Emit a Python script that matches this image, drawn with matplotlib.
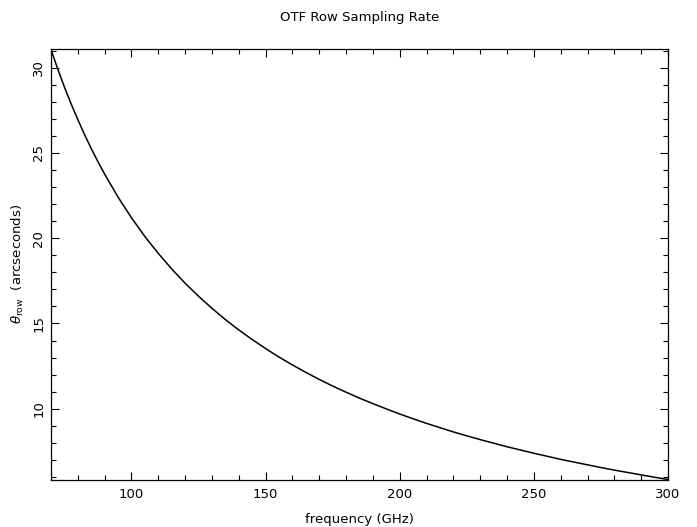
import matplotlib
matplotlib.use("Agg")
import matplotlib.pyplot as plt
from matplotlib.ticker import MultipleLocator

freq = [70, 72.5, 75, 77.5, 80, 82.5, 85, 87.5, 90, 95, 100, 105, 110, 115,
        120, 125, 130, 135, 140, 145, 150, 155, 160, 165, 170, 175, 180, 185,
        190, 195, 200, 205, 210, 215, 220, 225, 230, 235, 240, 245, 250, 255,
        260, 265, 270, 275, 280, 285, 290, 295, 300]
theta_row = [31.07, 29.93, 28.87, 27.88, 26.96, 26.08, 25.26, 24.49, 23.76,
             22.41, 21.20, 20.10, 19.11, 18.20, 17.36, 16.60, 15.89, 15.23,
             14.62, 14.06, 13.53, 13.03, 12.57, 12.13, 11.72, 11.33, 10.97,
             10.62, 10.30, 9.99, 9.69, 9.41, 9.14, 8.89, 8.64, 8.41, 8.19,
             7.98, 7.77, 7.58, 7.39, 7.21, 7.03, 6.87, 6.71, 6.55, 6.40, 6.26,
             6.12, 5.98, 5.85]

fig = plt.figure(figsize=(6.97, 5.27), dpi=100)
ax = fig.add_axes([51/697, 1-480/527, (668-51)/697, (480-49)/527])
ax.plot(freq, theta_row, color="black", lw=1.1)
ax.set_xlim(70, 300)
ax.set_ylim(5.82, 31.1)

ax.xaxis.set_major_locator(MultipleLocator(50))
ax.xaxis.set_minor_locator(MultipleLocator(10))
ax.yaxis.set_major_locator(MultipleLocator(5))
ax.yaxis.set_minor_locator(MultipleLocator(1))
ax.tick_params(which="both", direction="in", top=True, right=True,
               width=0.8, labelsize=9.5)
ax.tick_params(which="major", length=6)
ax.tick_params(which="minor", length=3.5)
for lab in ax.get_yticklabels():
    lab.set_rotation(90)
    lab.set_va("center")
ax.tick_params(axis="x", pad=6)
ax.tick_params(axis="y", pad=4)
for s in ax.spines.values():
    s.set_linewidth(0.9)

fig.text(0.5*(51+668)/697, 1-519/527, "frequency (GHz)",
         ha="center", va="center", fontsize=9.5)
fig.text(18/697, 1-264/527, r"$\theta_{\rm row}$  (arcseconds)",
         ha="center", va="center", rotation=90, fontsize=9.5)
fig.text(0.5*(51+668)/697, 1-17/527, "OTF Row Sampling Rate",
         ha="center", va="center", fontsize=9.5)

fig.savefig("out.png", dpi=100)
